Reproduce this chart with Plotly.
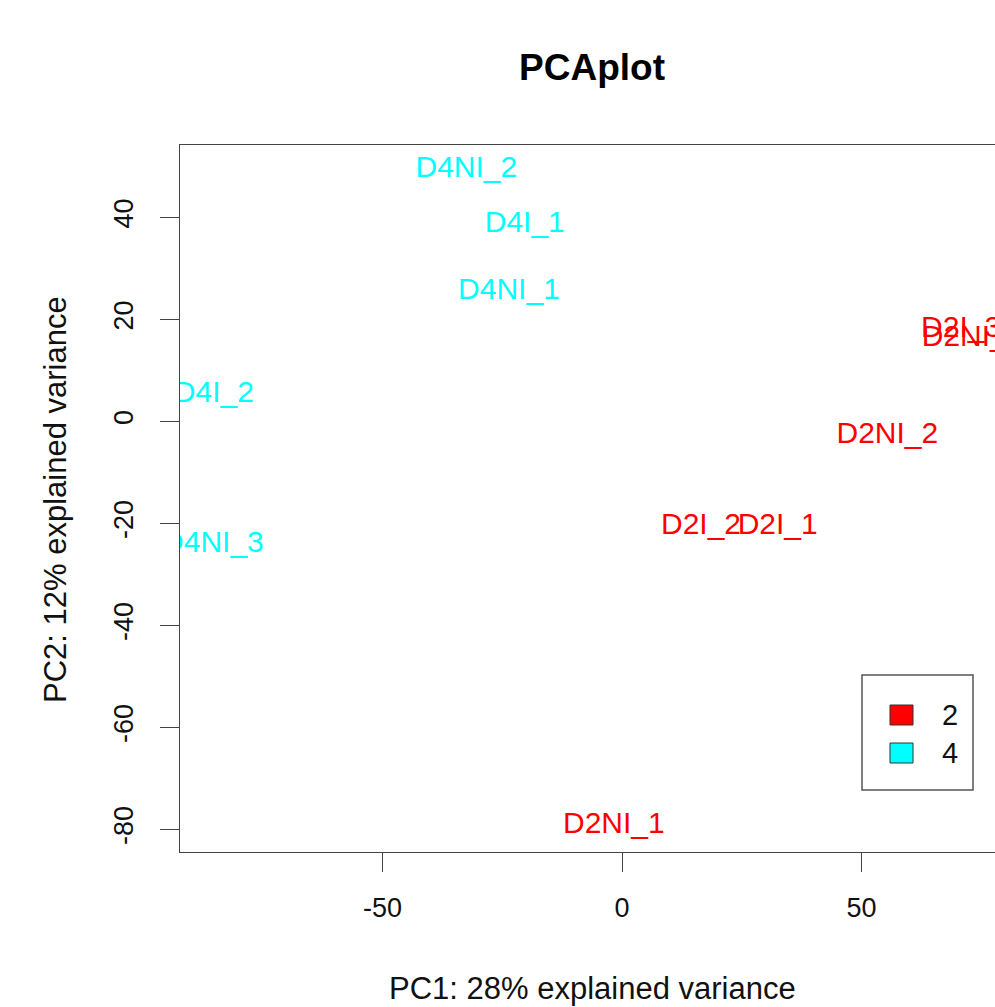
import plotly.graph_objects as go

# ---- data ----
samples = ["D4NI_2", "D4I_1", "D4NI_1", "D4I_2", "D4NI_3",
           "D2I_3", "D2NI_3", "D2NI_2", "D2I_2", "D2I_1", "D2NI_1"]
groups = ["4", "4", "4", "4", "4", "2", "2", "2", "2", "2", "2"]
pc1 = [-32.5, -20.3, -23.6, -85.2, -85.4, 70.8, 73.2, 55.4, 16.5, 32.5, -1.7]
pc2 = [49.5, 38.7, 25.4, 5.2, -24.2, 18.1, 16.2, -2.8, -20.6, -20.5, -79.3]
group_levels = ["2", "4"]
group_colors = {"2": "#FF0000", "4": "#00FFFF"}
x_ticks = [-50, 0, 50]
x_ticktext = ["-50", "0", "50"]
y_ticks = [-80, -60, -40, -20, 0, 20, 40]
y_ticktext = ["-80", "-60", "-40", "-20", "0", "20", "40"]

# screen pixels; the page body margin is removed below so figure px = screen px
W, H = 995, 1007
PL, PT, PB = 180, 145, 852          # plot area in pixels (right edge = W)
L, T, B, R = PL, PT, H - PB, 0
PW, PH = W - L - R, H - T - B

def px_x(px):
    return (px - L) / PW

def px_y(py):
    return (H - B - py) / PH

X0PX, XSCALE = 622, 4.79
Y0PX, YSCALE = 421.5, 5.1

FONT = "Liberation Sans, Arial, Helvetica, sans-serif"

fig = go.Figure()
for g in group_levels:
    idx = [i for i, gg in enumerate(groups) if gg == g]
    fig.add_trace(go.Scatter(
        x=[pc1[i] for i in idx], y=[pc2[i] for i in idx],
        text=[samples[i] for i in idx], mode="text",
        textposition="middle center",
        textfont=dict(family=FONT, size=30, color=group_colors[g]),
        cliponaxis=True, showlegend=False, name=g,
    ))

axis_common = dict(
    showgrid=False, zeroline=False, showline=True, linecolor="#444", linewidth=1.3,
    ticks="outside", ticklen=19, tickcolor="#444", tickwidth=1.3,
    tickfont=dict(family=FONT, size=27, color="#111"),
)
fig.update_xaxes(range=[(PL - X0PX) / XSCALE, (W - X0PX) / XSCALE],
                 tickvals=x_ticks, ticktext=x_ticktext,
                 mirror=True, ticklabelstandoff=12, **axis_common)
fig.update_yaxes(range=[(Y0PX - PB) / YSCALE, (Y0PX - PT) / YSCALE],
                 tickvals=y_ticks, ticktext=y_ticktext,
                 tickangle=-90, ticklabelstandoff=16, **axis_common)

shapes = []
annotations = []
# legend box
shapes.append(dict(type="rect", xref="paper", yref="paper",
                   x0=px_x(862), x1=px_x(973), y0=px_y(790), y1=px_y(675),
                   line=dict(color="#555", width=1.5), fillcolor="white"))
for k, g in enumerate(group_levels):
    cy = 715 + 38 * k
    shapes.append(dict(type="rect", xref="paper", yref="paper",
                       x0=px_x(890), x1=px_x(913), y0=px_y(cy + 10), y1=px_y(cy - 10),
                       line=dict(color="#333", width=1), fillcolor=group_colors[g]))
    annotations.append(dict(xref="paper", yref="paper", x=px_x(950), y=px_y(cy),
                            text=g, showarrow=False, xanchor="center", yanchor="middle",
                            font=dict(family=FONT, size=29, color="#111")))

annotations.append(dict(xref="paper", yref="paper", x=px_x(592), y=px_y(989),
                        text="PC1: 28% explained variance", showarrow=False,
                        xanchor="center", yanchor="middle",
                        font=dict(family=FONT, size=31, color="#111")))
annotations.append(dict(xref="paper", yref="paper", x=px_x(55), y=px_y(500),
                        text="PC2: 12% explained variance", showarrow=False, textangle=-90,
                        xanchor="center", yanchor="middle",
                        font=dict(family=FONT, size=31, color="#111")))

fig.update_layout(
    width=W, height=H,
    margin=dict(l=L, r=R, t=T, b=B, pad=0),
    paper_bgcolor="white", plot_bgcolor="white",
    title=dict(text="<b>PCAplot</b>", x=592 / W, xanchor="center",
               y=1 - 67 / H, yanchor="middle", yref="container",
               font=dict(family=FONT, size=37, color="#000")),
    shapes=shapes, annotations=annotations, showlegend=False,
)

fig.write_html(
    "out.html",
    config={"displayModeBar": False},
    post_script="document.body.style.margin='0';document.body.style.overflow='hidden';",
)
